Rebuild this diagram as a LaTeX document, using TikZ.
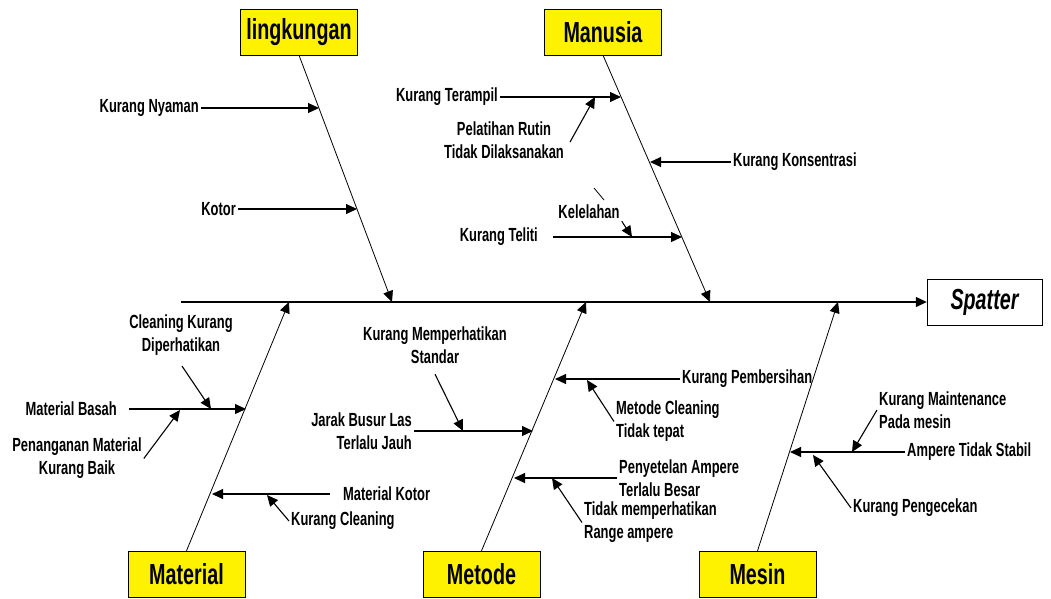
\documentclass[tikz,border=0pt]{standalone}
\usepackage{fontspec}
\setmainfont{Liberation Sans}[FakeStretch = 0.68]
\usetikzlibrary{arrows.meta}
\tikzset{
  cause/.style = {draw, fill = yellow, minimum width = 117pt, minimum height = 46pt,
    font = \fontsize{29}{32}\selectfont\bfseries},
  note/.style = {inner sep = 2pt, font = \fontsize{19}{23}\selectfont\bfseries},
  tip/.style = {-{Triangle[length = 11pt, width = 10pt]}, line width = 1.1pt},
  bone/.style = {-{Triangle[length = 11pt, width = 10pt]}, line width = 0.8pt},
}
\begin{document}
\begin{tikzpicture}[x = 1pt, y = -1pt]
  \useasboundingbox (0, 0) rectangle (1051, 598);
  \node [cause] (lk) at (299, 32) {lingkungan};
  \node [cause] (mn) at (603, 32) {Manusia};
  \node [cause] (mt) at (186.5, 574) {Material};
  \node [cause] (md) at (481.5, 574) {Metode};
  \node [cause] (ms) at (757.5, 574) {Mesin};
  \node [draw, minimum width = 115pt, minimum height = 46pt,
    font = \fontsize{29}{32}\selectfont\bfseries\itshape] (sp) at (984.5, 302) {Spatter};
  \coordinate (tail) at (181, 302);
  \draw [tip, line width = 1.3pt] (tail) -- (sp.west);
  \coordinate (lkend) at (392, 302);
  \coordinate (mnend) at (710, 302);
  \coordinate (mtend) at (289, 302);
  \coordinate (mdend) at (586, 302);
  \coordinate (msend) at (838, 302);
  \draw [bone] (lk.south) -- (lkend);
  \draw [bone] (mn.south) -- (mnend);
  \draw [bone] (mt.north) -- (mtend);
  \draw [bone] (md.north) -- (mdend);
  \draw [bone] (ms.north) -- (msend);
  % lingkungan
  \node [note, anchor = east] (nyaman) at (201, 108) {Kurang Nyaman};
  \node [note, anchor = east] (kotor) at (238, 209) {Kotor};
  \coordinate (lk1) at (319, 108);
  \coordinate (lk2) at (357, 209);
  \draw [tip] (nyaman.east) -- (lk1);
  \draw [tip] (kotor.east) -- (lk2);
  % manusia
  \node [note, anchor = east] (terampil) at (500, 97) {Kurang Terampil};
  \node [note, align = center] (pelatihan) at (504, 140) {Pelatihan Rutin\\Tidak Dilaksanakan};
  \node [note, anchor = west] (konsentrasi) at (731, 162) {Kurang Konsentrasi};
  \node [note, anchor = east] (teliti) at (540, 237) {Kurang Teliti};
  \node [note] (lelah) at (589, 212) {Kelelahan};
  \coordinate (mn1) at (621, 97);
  \coordinate (mn2) at (650, 162);
  \coordinate (mn3) at (682, 237);
  \coordinate (terampil1) at (595, 97);
  \coordinate (teliti1) at (632, 237);
  \draw [tip] (terampil.east) -- (mn1);
  \draw [tip] (pelatihan.east) ++(4, 2) -- (terampil1);
  \draw [tip] (konsentrasi.west) -- (mn2);
  \draw [tip] (teliti.east) ++(13, 0) -- (mn3);
  \draw [tip] (lelah.south east) -- (teliti1);
  \draw [line width = 0.8pt] (594, 188) -- (604, 200);
  % material
  \node [note, anchor = east] (basah) at (119, 409) {Material Basah};
  \node [note, align = center] (cleaning) at (181, 335.5) {Cleaning Kurang\\Diperhatikan};
  \node [note, align = center] (penanganan) at (77, 458.5) {Penanganan Material\\Kurang Baik};
  \node [note, anchor = west] (mkotor) at (341, 494) {Material Kotor};
  \node [note, anchor = west] (kcleaning) at (289, 521) {Kurang Cleaning};
  \coordinate (mt1) at (246, 409);
  \coordinate (mt2) at (212, 494);
  \coordinate (basah1) at (211, 409);
  \coordinate (basah2) at (180, 410);
  \coordinate (mkotor1) at (267, 495);
  \draw [tip] (basah.east) ++(10, 0) -- (mt1);
  \draw [tip] (cleaning.south) ++(1, 8) -- (basah1);
  \draw [tip] (penanganan.east) -- (basah2);
  \draw [tip] (mkotor.west) ++(-11, 0) -- (mt2);
  \draw [tip] (kcleaning.west) -- (mkotor1);
  % metode
  \node [note, align = center] (standar) at (435, 345.5) {Kurang Memperhatikan\\Standar};
  \node [note, align = right, anchor = east] (jarak) at (414, 431) {Jarak Busur Las\\Terlalu Jauh};
  \node [note, anchor = west] (bersih) at (680, 379) {Kurang Pembersihan};
  \node [note, align = left, anchor = west] (metodec) at (614, 421.5) {Metode Cleaning\\Tidak tepat};
  \node [note, align = left, anchor = west] (setel) at (617, 478) {Penyetelan Ampere\\Terlalu Besar};
  \node [note, align = left, anchor = west] (range) at (582, 522.5) {Tidak memperhatikan\\Range ampere};
  \coordinate (md1) at (533, 431);
  \coordinate (md2) at (555, 379);
  \coordinate (md3) at (514, 478);
  \coordinate (jarak1) at (463, 431);
  \coordinate (bersih1) at (587, 380);
  \coordinate (setel1) at (552, 478);
  \draw [tip] (jarak.east) -- (md1);
  \draw [tip] (standar.south) ++(0, 8) -- (jarak1);
  \draw [tip] (bersih.west) -- (md2);
  \draw [tip] (metodec.west) -- (bersih1);
  \draw [tip] (setel.west) -- (md3);
  \draw [tip] (range.west) -- (setel1);
  % mesin
  \node [note, anchor = west] (stabil) at (905, 452) {Ampere Tidak Stabil};
  \node [note, align = left, anchor = west] (maint) at (877, 410) {Kurang Maintenance\\Pada mesin};
  \node [note, anchor = west] (cek) at (851, 508) {Kurang Pengecekan};
  \coordinate (ms1) at (790, 452);
  \coordinate (stabil1) at (852, 452);
  \coordinate (stabil2) at (813, 455);
  \draw [tip] (stabil.west) -- (ms1);
  \draw [tip] (maint.west) -- (stabil1);
  \draw [tip] (cek.west) -- (stabil2);
\end{tikzpicture}
\end{document}
